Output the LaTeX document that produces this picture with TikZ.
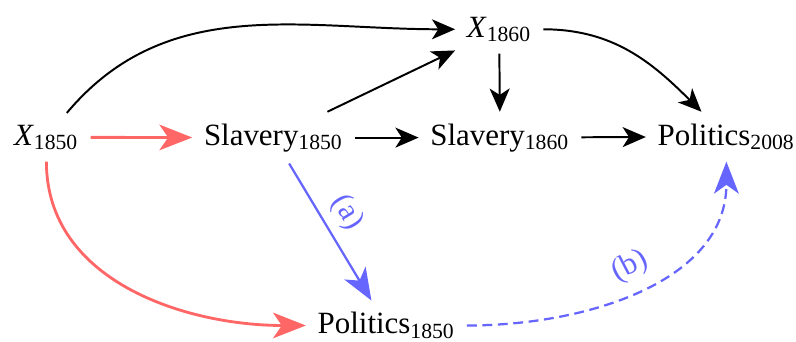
\documentclass[tikz,border=0pt]{standalone}
\usepackage{fontspec}
\setmainfont{Liberation Serif}
\usepackage{xcolor}
\usetikzlibrary{arrows.meta}

\definecolor{salmon}{RGB}{255,102,102}
\definecolor{lavender}{RGB}{102,102,255}

\begin{document}
\begin{tikzpicture}[
  arrow/.style={-{Stealth[length=0.29cm, width=0.25cm, inset=0.08cm]}, line width=0.7pt, black},
  redarrow/.style={-{Stealth[length=0.41cm, width=0.32cm, inset=0.11cm]}, line width=1pt, salmon},
  bluearrow/.style={-{Stealth[length=0.40cm, width=0.31cm, inset=0.11cm]}, line width=0.8pt, lavender},
  dashedarrow/.style={bluearrow, dash pattern=on 3.5pt off 2pt},
  var/.style={anchor=base, inner sep=4pt, font=\fontsize{11}{13}\selectfont},
  tag/.style={font=\fontsize{11}{13}\selectfont, text=lavender, sloped, above}
]
\useasboundingbox (0,0) rectangle (9.95,4.2625);
\node[var] (x1850) at (0.58,2.45) {\textit{X}\textsubscript{1850}};
\node[var] (slav1850) at (3.42,2.45) {Slavery\textsubscript{1850}};
\node[var] (slav1860) at (6.25,2.45) {Slavery\textsubscript{1860}};
\node[var] (pol2008) at (9.08,2.45) {Politics\textsubscript{2008}};
\node[var] (x1860) at (6.24,3.80) {\textit{X}\textsubscript{1860}};
\node[var] (pol1850) at (4.83,0.09) {Politics\textsubscript{1850}};
\draw[redarrow] (x1850) -- (slav1850);
\draw[redarrow] (x1850) to[out=-90, in=180] (pol1850);
\draw[arrow] (x1850) to[out=50, in=180] (x1860);
\draw[arrow] (slav1850) -- (slav1860);
\draw[arrow] (slav1860) -- (pol2008);
\draw[arrow] (slav1850) -- (x1860);
\draw[arrow] (x1860) -- (slav1860);
\draw[arrow] (x1860) to[out=0, in=135] (pol2008);
\draw[bluearrow] (slav1850) -- node[tag, pos=0.45] {(a)} (pol1850);
\draw[dashedarrow] (pol1850) to[out=0, in=-90] node[tag, pos=0.5] {(b)} (pol2008);
\end{tikzpicture}
\end{document}
